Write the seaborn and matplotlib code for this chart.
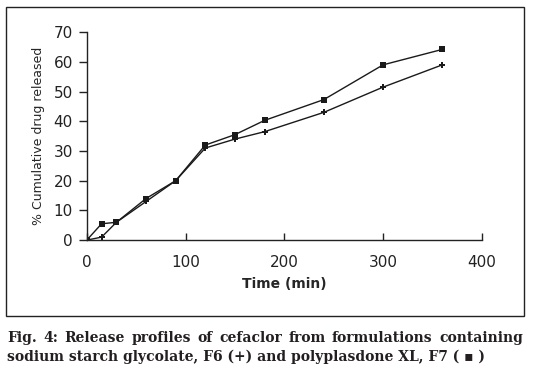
import pandas as pd
import numpy as np
import seaborn as sns
import matplotlib.pyplot as plt
from matplotlib.patches import Rectangle

# release data
time_min = [0, 15, 30, 60, 90, 120, 150, 180, 240, 300, 360]
f6_release = [0, 1, 6, 13, 20, 31, 34, 36.5, 43, 51.5, 59]
f7_release = [0, 5.5, 6, 14, 20, 32, 35.5, 40.3, 47.3, 59, 64.2]

x_ticks = [0, 100, 200, 300, 400]
y_ticks = [0, 10, 20, 30, 40, 50, 60, 70]
caption = ["Fig. 4: Release profiles of cefaclor from formulations containing",
           "sodium starch glycolate, F6 (+) and polyplasdone XL, F7 ( \u25aa )"]


def build_frame():
    f6 = pd.DataFrame({"time": time_min, "release": f6_release, "formulation": "F6"})
    f7 = pd.DataFrame({"time": time_min, "release": f7_release, "formulation": "F7"})
    return pd.concat([f6, f7], ignore_index=True)


def justified_line(fig, text, x0, x1, y, **kw):
    """Spread the words of one caption line across x0..x1 (figure coords)."""
    renderer = fig.canvas.get_renderer()
    words = [fig.text(0, y, w, **kw) for w in text.split()]
    fig_w = fig.bbox.width
    widths = [t.get_window_extent(renderer).width / fig_w for t in words]
    gap = (x1 - x0 - sum(widths)) / (len(words) - 1)
    x = x0
    for t, w in zip(words, widths):
        t.set_x(x)
        x += w + gap


def draw_release_chart():
    sns.set_style("ticks")
    plt.rcParams['font.family'] = ['DejaVu Sans']

    df = build_frame()
    fig = plt.figure(figsize=(5.39, 3.74), dpi=100)
    ax = fig.add_axes([0.161, 0.358, 0.733, 0.556])

    sns.lineplot(data=df, x="time", y="release", style="formulation",
                 markers={"F6": "P", "F7": "s"}, dashes=False, color="#1a1a1a",
                 markersize=3.8, linewidth=1.0, markeredgewidth=0,
                 legend=False, ax=ax)

    ax.set_xlim(0, 400)
    ax.set_ylim(0, 70)
    ax.set_xticks(x_ticks)
    ax.set_yticks(y_ticks)
    ax.tick_params(axis="x", direction="in", length=5, width=1, labelsize=11, pad=11, colors="#222222")
    ax.tick_params(axis="y", direction="out", length=6, width=1, labelsize=11, pad=4, colors="#222222")
    for s in ["left", "bottom"]:
        ax.spines[s].set_linewidth(1.0)
        ax.spines[s].set_color("#222222")
    sns.despine(ax=ax)

    ax.set_xlabel("Time (min)", fontsize=10, fontweight="bold", labelpad=5)
    ax.set_ylabel("% Cumulative drug released", fontsize=9, labelpad=6)

    # box around the chart area
    fig.patches.append(Rectangle((0.011, 0.155), 0.961, 0.826, transform=fig.transFigure,
                                 fill=False, edgecolor="#222222", linewidth=1.0))

    cap_kw = dict(fontsize=10, fontweight="bold",
                  family=["DejaVu Serif"], color="#231f20")
    justified_line(fig, caption[0], 0.013, 0.970, 0.086, **cap_kw)
    fig.text(0.013, 0.035, caption[1], **cap_kw)

    fig.savefig("out.png", dpi=100)


if __name__ == "__main__":
    draw_release_chart()
